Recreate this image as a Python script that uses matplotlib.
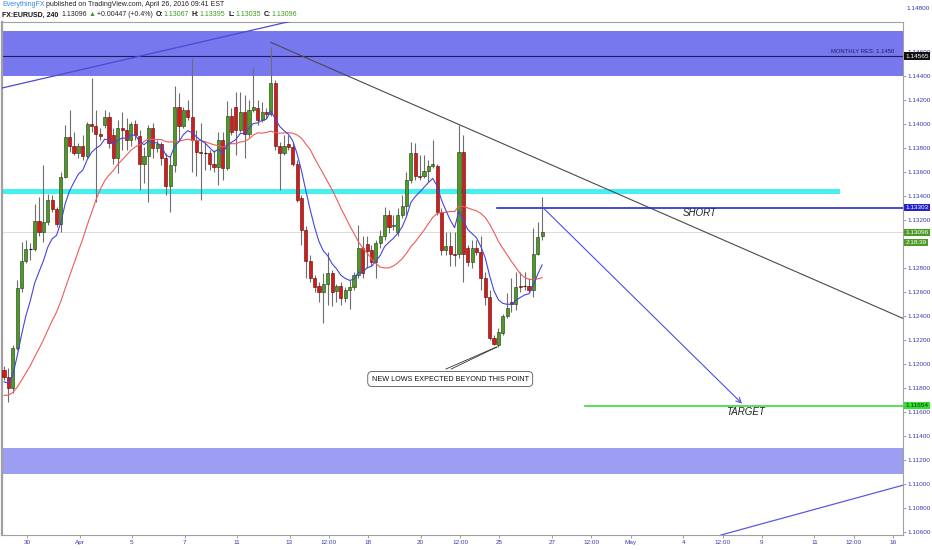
import matplotlib
matplotlib.use("Agg")
import matplotlib.pyplot as plt
import matplotlib.transforms as mtransforms
import numpy as np
import pandas as pd

plt.rcParams['font.family'] = ['Liberation Sans', 'DejaVu Sans']

## EURUSD 240 candles (oldest first)
opens = [1.1195, 1.1189, 1.1180, 1.1213, 1.1263, 1.1286, 1.1296, 1.1296, 1.1319, 1.1310,
         1.1318, 1.1337, 1.1329, 1.1317, 1.1356, 1.1389, 1.1382, 1.1376, 1.1382, 1.1373,
         1.1400, 1.1398, 1.1392, 1.1399, 1.1406, 1.1391, 1.1372, 1.1397, 1.1395, 1.1387,
         1.1400, 1.1390, 1.1367, 1.1373, 1.1397, 1.1380, 1.1383, 1.1372, 1.1348, 1.1366,
         1.1414, 1.1398, 1.1412, 1.1406, 1.1387, 1.1377, 1.1376, 1.1376, 1.1367, 1.1364,
         1.1387, 1.1363, 1.1407, 1.1414, 1.1395, 1.1410, 1.1392, 1.1412, 1.1413, 1.1403,
         1.1410, 1.1408, 1.1434, 1.1382, 1.1376, 1.1383, 1.1381, 1.1367, 1.1338, 1.1312,
         1.1286, 1.1272, 1.1265, 1.1260, 1.1267, 1.1276, 1.1261, 1.1265, 1.1255, 1.1262,
         1.1264, 1.1274, 1.1297, 1.1300, 1.1295, 1.1285, 1.1301, 1.1307, 1.1324, 1.1315,
         1.1310, 1.1324, 1.1332, 1.1353, 1.1376, 1.1357, 1.1357, 1.1361, 1.1365, 1.1365,
         1.1327, 1.1295, 1.1298, 1.1292, 1.1292, 1.1377, 1.1297, 1.1285, 1.1297, 1.1293,
         1.1272, 1.1256, 1.1222, 1.1216, 1.1226, 1.1240, 1.1252, 1.1250, 1.1265, 1.1265,
         1.1265, 1.1262, 1.1292, 1.13067]
highs = [1.1198, 1.1197, 1.1216, 1.1270, 1.1302, 1.1303, 1.1301, 1.1333, 1.1339, 1.1366,
         1.1342, 1.1341, 1.1331, 1.1360, 1.1399, 1.1412, 1.1393, 1.1384, 1.1391, 1.1402,
         1.1438, 1.1412, 1.1397, 1.1412, 1.1410, 1.1397, 1.1403, 1.1410, 1.1405, 1.1402,
         1.1403, 1.1395, 1.1381, 1.1399, 1.1401, 1.1387, 1.1385, 1.1376, 1.1374, 1.1432,
         1.1426, 1.1414, 1.1420, 1.1455, 1.1395, 1.1401, 1.1385, 1.1378, 1.1378, 1.1393,
         1.1393, 1.1419, 1.1413, 1.1427, 1.1427, 1.1424, 1.1420, 1.1447, 1.1420, 1.1418,
         1.1413, 1.1464, 1.1437, 1.1385, 1.1391, 1.1391, 1.1384, 1.1370, 1.1341, 1.1315,
         1.1291, 1.1274, 1.1268, 1.1276, 1.1293, 1.1278, 1.1267, 1.1268, 1.1264, 1.1270,
         1.1277, 1.1316, 1.1307, 1.1307, 1.1299, 1.1303, 1.1312, 1.1331, 1.1328, 1.1324,
         1.1330, 1.1341, 1.1360, 1.1385, 1.1384, 1.1374, 1.1374, 1.1370, 1.1387, 1.1367,
         1.1330, 1.1310, 1.1310, 1.1310, 1.1399, 1.1391, 1.1299, 1.1303, 1.1303, 1.1307,
         1.1277, 1.1262, 1.1224, 1.1230, 1.1242, 1.1259, 1.1272, 1.1277, 1.1277, 1.1277,
         1.1272, 1.1313, 1.1318, 1.13395]
lows = [1.1187, 1.1168, 1.1176, 1.1212, 1.1260, 1.1284, 1.1287, 1.1294, 1.1307, 1.1302,
        1.1316, 1.1327, 1.1314, 1.1310, 1.1355, 1.1377, 1.1374, 1.1372, 1.1370, 1.1372,
        1.1393, 1.1335, 1.1387, 1.1397, 1.1380, 1.1367, 1.1359, 1.1378, 1.1378, 1.1382,
        1.1387, 1.1345, 1.1351, 1.1335, 1.1372, 1.1377, 1.1366, 1.1341, 1.1327, 1.1360,
        1.1387, 1.1397, 1.1403, 1.1360, 1.1357, 1.1337, 1.1362, 1.1362, 1.1360, 1.1349,
        1.1353, 1.1362, 1.1391, 1.1374, 1.1393, 1.1372, 1.1389, 1.1410, 1.1399, 1.1402,
        1.1405, 1.1407, 1.1378, 1.1345, 1.1374, 1.1378, 1.1365, 1.1335, 1.1299, 1.1272,
        1.1268, 1.1260, 1.1252, 1.1234, 1.1249, 1.1248, 1.1252, 1.1249, 1.1252, 1.1246,
        1.1262, 1.1272, 1.1272, 1.1280, 1.1282, 1.1272, 1.1297, 1.1303, 1.1309, 1.1312,
        1.1307, 1.1322, 1.1324, 1.1351, 1.1353, 1.1353, 1.1355, 1.1352, 1.1363, 1.1324,
        1.1291, 1.1291, 1.1282, 1.1282, 1.1288, 1.1268, 1.1282, 1.1280, 1.1291, 1.1262,
        1.1249, 1.1220, 1.1216, 1.1214, 1.1224, 1.1238, 1.1243, 1.1245, 1.1260, 1.1262,
        1.1259, 1.1256, 1.1291, 1.13035]
closes = [1.1189, 1.1180, 1.1213, 1.1263, 1.1286, 1.1296, 1.1296, 1.1319, 1.1310, 1.1318,
          1.1337, 1.1329, 1.1317, 1.1356, 1.1389, 1.1382, 1.1376, 1.1382, 1.1373, 1.1400,
          1.1398, 1.1392, 1.1390, 1.1406, 1.1384, 1.1372, 1.1397, 1.1395, 1.1387, 1.1400,
          1.1391, 1.1367, 1.1373, 1.1397, 1.1380, 1.1383, 1.1372, 1.1348, 1.1366, 1.1414,
          1.1398, 1.1412, 1.1406, 1.1387, 1.1377, 1.1376, 1.1376, 1.1367, 1.1364, 1.1387,
          1.1363, 1.1407, 1.1393, 1.1395, 1.1410, 1.1392, 1.1412, 1.1414, 1.1403, 1.1410,
          1.1408, 1.1434, 1.1382, 1.1376, 1.1382, 1.1381, 1.1367, 1.1337, 1.1312, 1.1286,
          1.1272, 1.1264, 1.1260, 1.1267, 1.1276, 1.1260, 1.1265, 1.1255, 1.1262, 1.1264,
          1.1274, 1.1297, 1.1276, 1.1294, 1.1285, 1.1301, 1.1307, 1.1324, 1.1314, 1.1316,
          1.1324, 1.1332, 1.1353, 1.1376, 1.1357, 1.1356, 1.1361, 1.1365, 1.1367, 1.1327,
          1.1295, 1.1298, 1.1292, 1.1291, 1.1377, 1.1292, 1.1285, 1.1297, 1.1293, 1.1272,
          1.1256, 1.1222, 1.1217, 1.1227, 1.1240, 1.1247, 1.1250, 1.1264, 1.1264, 1.1265,
          1.1262, 1.1292, 1.1306, 1.13096]

# moving averages: values where the lines enter the chart
fast_start = 1.1184
slow_start = 1.1173

# levels drawn on the chart
monthly_res = 1.14565
short_level = 1.13303
target_level = 1.11654
last_price = 1.13096

# date axis (trading-day offsets from Mar 30)
tick_days = [0, 2, 4, 6, 8, 10, 11.5, 13, 15, 16.5, 18, 20, 21.5, 23, 25, 26.5, 28, 30, 31.5, 33]
tick_labels = ["30", "Apr", "5", "7", "11", "13", "12:00", "18", "20", "12:00",
               "25", "27", "12:00", "May", "4", "12:00", "9", "11", "12:00", "16"]
price_ticks = np.arange(1.106, 1.1465, 0.002)

axis_blue = '#3a3aa8'
green_txt = '#3c9a1c'

## ------------------------------
fig = plt.figure(figsize=(9.32, 5.5), dpi=100)
ax = fig.add_axes([2/932, 15/550, 901/932, 513/550])
ax.set_xlim(-0.46, 205.5)
ax.set_ylim(1.10575, 1.1485)

x = np.arange(len(closes))
o = np.array(opens)
h = np.array(highs)
l = np.array(lows)
c = np.array(closes)

# zones
ax.axhspan(1.1440, 1.14775, color='#7777ee', lw=0, zorder=1)
ax.axhspan(1.11083, 1.11300, color='#9d9df2', lw=0, zorder=1)
ax.fill_between([-0.46, 191.1], 1.13417, 1.13458, color='#46f0f0', lw=0, zorder=2)
ax.axhline(monthly_res, color='#1c1c5c', lw=0.8, zorder=2)
ax.axhline(last_price, color='#d6d6d6', lw=0.6, zorder=1)
ax.text(203.6, 1.14608, 'MONTHLY RES: 1.1450', fontsize=4.2, color='#1c1c6c',
        ha='right', va='center', zorder=6)

# candles
ax.vlines(x, l, h, color='#6e6e6e', lw=0.8, zorder=3)
body = np.abs(c - o)
bottom = np.minimum(o, c)
up = c > o
dn = c < o
ax.bar(x[up], body[up], 0.72, bottom[up], color='#4e9a26', edgecolor='#1d3a0e', lw=0.4, zorder=4)
ax.bar(x[dn], body[dn], 0.72, bottom[dn], color='#d41b1b', edgecolor='#5a0808', lw=0.4, zorder=4)
flat = c == o
ax.hlines(c[flat], x[flat] - 0.36, x[flat] + 0.36, color='#111111', lw=0.8, zorder=4)

# moving averages
fast = []
prev = fast_start
k = 2 / (8 + 1)
for v in closes:
    prev = prev + k * (v - prev)
    fast.append(prev)
slow = pd.Series([slow_start] * 19 + closes).rolling(20).mean().iloc[19:].values
ax.plot(x, slow, color='#ef5a5a', lw=0.8, zorder=5)
ax.plot(x, fast, color='#4545dd', lw=0.8, zorder=5)

# trend lines
ax.plot([61, 205.5], [1.1468, 1.1238], color='#4a4a4a', lw=0.8, zorder=5)
ax.plot([-0.46, 66], [1.1430, 1.1486], color='#4a4ad6', lw=0.9, zorder=5)
ax.plot([163.9, 205.5], [1.10575, 1.1099], color='#5a5ae0', lw=0.9, zorder=5)

# trade plan
ax.plot([112.7, 205.5], [short_level, short_level], color='#2a2ac8', lw=1.2, zorder=5)
ax.plot([132.8, 205.5], [target_level, target_level], color='#3ddc3d', lw=1.2, zorder=5)
ax.annotate('', xy=(168.7, 1.1167), xytext=(123.2, short_level),
            arrowprops=dict(arrowstyle='->', color='#4f4fe0', lw=0.8,
                            shrinkA=0, shrinkB=0, mutation_scale=9), zorder=5)
ax.text(159.1, 1.13255, 'SHORT', fontsize=7, style='italic', color='#222222', ha='center', va='center')
ax.text(169.6, 1.11598, 'TARGET', fontsize=7, style='italic', color='#222222', ha='center', va='center')

# callout
ax.plot([101.0, 112.6], [1.11958, 1.12142], color='#333333', lw=0.6, zorder=6)
ax.plot([102.2, 112.7], [1.11958, 1.12142], color='#333333', lw=0.6, zorder=6)
ax.text(102, 1.11875, 'NEW LOWS EXPECTED BEYOND THIS POINT', fontsize=5.2, color='#111111',
        ha='center', va='center', zorder=7,
        bbox=dict(boxstyle='round,pad=0.55,rounding_size=0.6', fc='white', ec='#555555', lw=0.6))

# axes style
for s in ax.spines.values():
    s.set_color('#a0a0a0')
    s.set_linewidth(0.8)
ax.spines['left'].set_linewidth(1.6)
ax.yaxis.tick_right()
ax.set_yticks(price_ticks)
# 1.13000 sits under the countdown tag, as in the chart
ax.set_yticklabels(['' if abs(v - 1.130) < 1e-6 else '%.5f' % v for v in price_ticks])
ax.set_xticks([5.26 + 6 * d for d in tick_days])
ax.set_xticklabels(tick_labels)
ax.tick_params(axis='both', labelsize=4.6, colors='#909090', labelcolor=axis_blue,
               length=2, width=0.6, pad=1.5)

# price labels on the right axis
tr = mtransforms.blended_transform_factory(ax.transAxes, ax.transData)
def price_tag(y, txt, bg, fg='white'):
    ax.text(1.003, y, txt, transform=tr, fontsize=4.6, color=fg, ha='left', va='center',
            clip_on=False, zorder=8,
            bbox=dict(boxstyle='square,pad=0.2', fc=bg, ec='none'))
price_tag(monthly_res, '1.14565', '#111111')
price_tag(short_level, '1.13303', '#2323c8')
price_tag(last_price, '1.13096', '#4e9a26')
price_tag(last_price - 0.00084, '2:18:39', '#4e9a26')
price_tag(target_level, '1.11654', '#33e033', fg='#103010')
fig.text(906/932, 1 - 9/550, '1.14800', fontsize=4.6, color=axis_blue, va='center')

# header, pieces laid out one after another
fs = 5.0
renderer = fig.canvas.get_renderer()
def header_line(y_px, pieces):
    xp = 2
    for txt, col, wt, gap in pieces:
        t = fig.text(xp/932, 1 - y_px/550, txt, fontsize=fs, color=col, weight=wt, va='center')
        xp += t.get_window_extent(renderer).width + gap

header_line(5, [('EverythingFX', '#2f86e0', 'normal', 1.5),
                ('published on TradingView.com, April 26, 2016 09:41 EST', '#222222', 'normal', 0)])
header_line(15, [('FX:EURUSD, 240', '#111111', 'bold', 3),
                 ('1.13096', '#222222', 'normal', 1.5),
                 ('\u25b2', green_txt, 'normal', 1.5),
                 ('+0.00447 (+0.4%)', '#222222', 'normal', 3),
                 ('O:', '#111111', 'bold', 0.5), ('1.13067', green_txt, 'normal', 3),
                 ('H:', '#111111', 'bold', 0.5), ('1.13395', green_txt, 'normal', 3),
                 ('L:', '#111111', 'bold', 0.5), ('1.13035', green_txt, 'normal', 3),
                 ('C:', '#111111', 'bold', 0.5), ('1.13096', green_txt, 'normal', 0)])

fig.savefig('out.png', dpi=100)
